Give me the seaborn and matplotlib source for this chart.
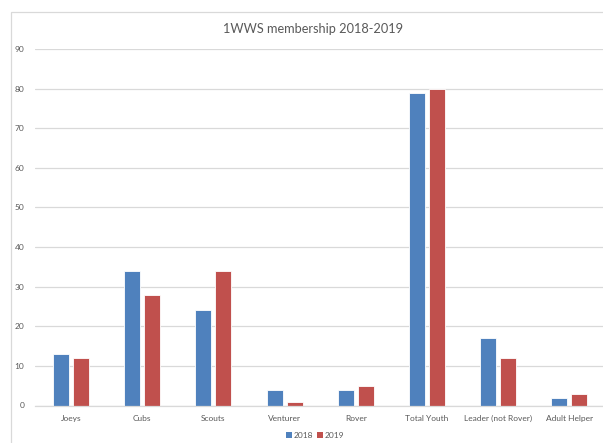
import matplotlib
matplotlib.use("Agg")
import matplotlib.pyplot as plt
import seaborn as sns
import pandas as pd
from matplotlib.patches import Rectangle

categories = ["Joeys", "Cubs", "Scouts", "Venturer", "Rover", "Total Youth",
              "Leader (not Rover)", "Adult Helper"]
values_2018 = [13, 34, 24, 4, 4, 79, 17, 2]
values_2019 = [12, 28, 34, 1, 5, 80, 12, 3]
years = ["2018", "2019"]
colors = ["#4F81BD", "#C0504D"]
yticks = [0, 10, 20, 30, 40, 50, 60, 70, 80, 90]

df = pd.DataFrame({
    "category": categories * 2,
    "value": values_2018 + values_2019,
    "year": [years[0]] * len(categories) + [years[1]] * len(categories),
})

sns.set_theme(style="white")
plt.rcParams["font.family"] = ["Lato", "DejaVu Sans"]

fig = plt.figure(figsize=(6.03, 4.43), dpi=100)
ax = fig.add_axes([35.4 / 603, 1 - 405.5 / 443, (605 - 35.4) / 603, (405.5 - 49) / 443])
ax.set_clip_on(False)

sns.barplot(data=df, x="category", y="value", hue="year", palette=colors,
            width=0.56, gap=0.2, ax=ax, edgecolor="white", linewidth=0.6,
            saturation=1, legend=True)

ax.set_ylim(0, 90)
ax.set_yticks(yticks)
ax.set_xlim(-0.5, len(categories) - 0.5)
ax.set_xlabel("")
ax.set_ylabel("")
ax.yaxis.grid(True, color="#D9D9D9", linewidth=0.9)
ax.set_axisbelow(True)
for s in ["top", "right", "left"]:
    ax.spines[s].set_visible(False)
ax.spines["bottom"].set_color("#D9D9D9")
ax.spines["bottom"].set_linewidth(0.9)
ax.tick_params(axis="both", length=0, labelsize=6, colors="#595959")
ax.tick_params(axis="y", pad=8)
ax.tick_params(axis="x", pad=7)

leg = ax.get_legend()
leg.remove()
handles = [Rectangle((0, 0), 1, 1, facecolor=c, edgecolor="none") for c in colors]
fig.legend(handles, years, loc="center", bbox_to_anchor=(315 / 603, 1 - 435 / 443),
           ncol=2, frameon=False, fontsize=6, handlelength=0.7, handleheight=0.7,
           handletextpad=0.2, columnspacing=0.5, labelcolor="#595959")

fig.text(313 / 603, 1 - 29 / 443, "1WWS membership 2018-2019", ha="center",
         va="center", fontsize=9.2, color="#595959")

border = Rectangle((11 / 603, -0.05), 1.1, (443 - 12) / 443 + 0.05,
                   transform=fig.transFigure, fill=False, edgecolor="#D9D9D9",
                   linewidth=0.9, clip_on=False)
fig.patches.append(border)

fig.savefig("out.png", dpi=100)
